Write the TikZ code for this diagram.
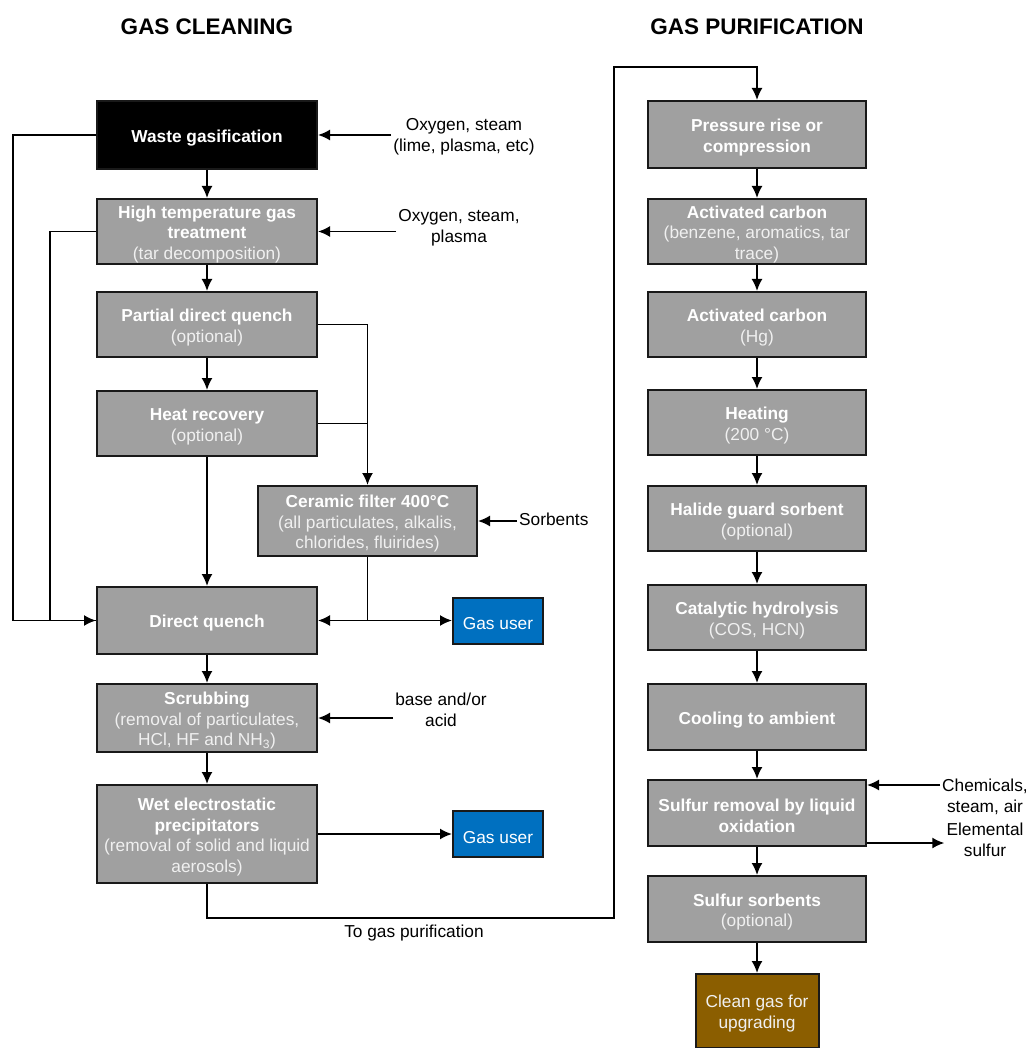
\documentclass[tikz,border=0pt]{standalone}
\usepackage{fontspec}
\setmainfont{Liberation Sans}
\usetikzlibrary{arrows.meta,calc}
\definecolor{boxgray}{RGB}{160,160,160}
\definecolor{userblue}{RGB}{0,112,192}
\definecolor{cleanbrown}{RGB}{139,94,0}
\definecolor{subwhite}{RGB}{240,240,240}
\newcommand{\sub}[1]{{\color{subwhite}#1}}
\newcommand{\tp}{\rule{0pt}{18.3pt}}
\begin{document}
\begin{tikzpicture}[x=1pt,y=-1pt,
  txt/.style={font=\fontsize{17.3}{20.5}\selectfont},
  gbox/.style={txt, draw=black!90, line width=2pt, fill=boxgray, text=white,
    align=center, inner sep=0pt, minimum width=220pt, minimum height=66pt},
  rbox/.style={gbox, minimum width=218pt},
  ubox/.style={gbox, fill=userblue, minimum width=90pt, minimum height=46pt},
  label/.style={txt, align=center, inner sep=2pt},
  ttl/.style={font=\fontsize{22.5}{26}\selectfont\bfseries},
  arr/.style={line width=1.8pt, -{Latex[length=12pt,width=11pt]}},
  ln/.style={line width=1.8pt}]
\useasboundingbox (0,0) rectangle (1030,1048);

% titles
\node[ttl] (t1) at (207,27) {GAS CLEANING};
\node[ttl] (t2) at (757,27) {GAS PURIFICATION};

% left column
\node[gbox, fill=black, minimum height=68pt] (wg) at (207,135) {\tp\bfseries Waste gasification};
\node[gbox, minimum height=65pt] (ht) at (207,231.5) {\tp\bfseries High temperature gas\\ \bfseries treatment\\ \sub{(tar decomposition)}};
\node[gbox, minimum height=65pt] (pq) at (207,324.5) {\tp\bfseries Partial direct quench\\ \sub{(optional)}};
\node[gbox, minimum height=65pt] (hr) at (207,423.5) {\tp\bfseries Heat recovery\\ \sub{(optional)}};
\node[gbox, minimum width=219pt, minimum height=70pt] (cf) at (367.5,521) {\tp\bfseries Ceramic filter 400°C\\ \sub{(all particulates, alkalis,}\\ \sub{chlorides, fluirides)}};
\node[gbox, minimum height=67pt] (dq) at (207,620.5) {\tp\bfseries Direct quench};
\node[ubox] (gu1) at (498,620.5) {\tp Gas user};
\node[gbox, minimum height=68pt] (sc) at (207,718) {\tp\bfseries Scrubbing\\ \sub{(removal of particulates,}\\ \sub{HCl, HF and NH\textsubscript{3})}};
\node[gbox, minimum height=98pt] (we) at (207,834) {\tp\bfseries Wet electrostatic\\ \bfseries precipitators\\ \sub{(removal of solid and liquid}\\ \sub{aerosols)}};
\node[ubox, minimum height=46pt] (gu2) at (498,834) {\tp Gas user};

% side inputs left
\node[label] (in1) at (464,137) {Oxygen, steam\\(lime, plasma, etc)};
\node[label] (in2) at (459,228) {Oxygen, steam,\\plasma};
\node[label, anchor=west] (sorb) at (517,519) {Sorbents};
\node[label] (base) at (441,710) {base and/or\\acid};
\node[label] (togp) at (414,933) {To gas purification};

% right column
\node[rbox, minimum height=67pt] (pr) at (757,134.5) {\tp\bfseries Pressure rise or\\ \bfseries compression};
\node[rbox, minimum height=65pt] (ac1) at (757,231.5) {\tp\bfseries Activated carbon\\ \sub{(benzene, aromatics, tar}\\ \sub{trace)}};
\node[rbox, minimum height=65pt] (ac2) at (757,324.5) {\tp\bfseries Activated carbon\\ \sub{(Hg)}};
\node[rbox, minimum height=65pt] (he) at (757,422.5) {\tp\bfseries Heating\\ \sub{(200 °C)}};
\node[rbox, minimum height=65pt] (hg) at (757,518.5) {\tp\bfseries Halide guard sorbent\\ \sub{(optional)}};
\node[rbox, minimum height=65pt] (ch) at (757,617.5) {\tp\bfseries Catalytic hydrolysis\\ \sub{(COS, HCN)}};
\node[rbox, minimum height=66pt] (co) at (757,717) {\tp\bfseries Cooling to ambient};
\node[rbox, minimum height=66pt] (sr) at (757,813) {\tp\bfseries Sulfur removal by liquid\\ \bfseries oxidation};
\node[rbox, minimum height=66pt] (ss) at (757,909) {\tp\bfseries Sulfur sorbents\\ \sub{(optional)}};
\node[gbox, fill=cleanbrown, minimum width=123pt, minimum height=74pt, font=\fontsize{17.3}{21}\selectfont] (cg) at (757,1011) {\tp\color{subwhite}Clean gas for\\ \color{subwhite}upgrading};

\node[label] (chem) at (985,797) {Chemicals,\\steam, air};
\node[label] (elem) at (985,840) {Elemental\\sulfur};

% left flow
\draw[arr] (wg) -- (ht);
\draw[arr] (ht) -- (pq);
\draw[arr] (pq) -- (hr);
\draw[arr] (hr) -- (dq);
\draw[arr] (dq) -- (sc);
\draw[arr] (sc) -- (we);
\draw[arr] (we.east |- gu2.west) -- (gu2.west);
\draw[arr] (in1.west |- wg.east) -- (wg.east);
\draw[arr] (in2.west |- ht.east) -- (ht.east);
\draw[arr] (sorb.west |- cf.east) -- (cf.east);
\draw[arr] (base.west |- sc.east) -- (sc.east);

\draw[ln] (wg.west) -- ++(-83,0) |- (dq.west);
\draw[arr] (ht.west) -- ++(-46,0) |- (dq.west);
\draw[arr] (pq.east) -| (cf.north);
\draw[ln] (hr.east) -- (cf.north |- hr.east);
\draw[arr] (cf.south) |- (dq.east);
\draw[arr] (cf.south) |- (gu1.west);

% to purification
\draw[arr] (we.south) -- ++(0,34) -| (614,67) -| (pr.north);

% right flow
\draw[arr] (pr) -- (ac1);
\draw[arr] (ac1) -- (ac2);
\draw[arr] (ac2) -- (he);
\draw[arr] (he) -- (hg);
\draw[arr] (hg) -- (ch);
\draw[arr] (ch) -- (co);
\draw[arr] (co) -- (sr);
\draw[arr] (sr) -- (ss);
\draw[arr] (ss) -- (cg);
\draw[arr] ([yshift=-6pt]sr.north east -| chem.west) -- ([yshift=-6pt]sr.north east);
\draw[arr] ([yshift=4pt]sr.south east) -- ([yshift=4pt]sr.south east -| elem.west);
\end{tikzpicture}
\end{document}
